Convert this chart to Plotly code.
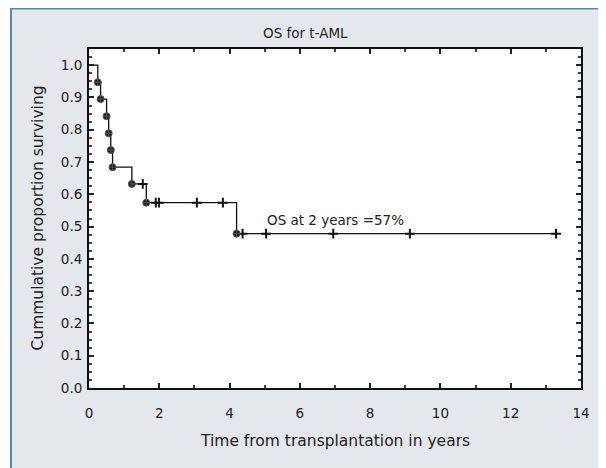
import plotly.graph_objects as go

# Kaplan-Meier data
event_times = [0.25, 0.33, 0.50, 0.56, 0.62, 0.67, 1.22, 1.63, 4.20]
event_surv = [0.947, 0.895, 0.842, 0.789, 0.737, 0.684, 0.632, 0.574, 0.478]
censor_times = [1.53, 1.90, 1.99, 3.07, 3.81, 4.37, 5.04, 6.95, 9.13, 13.29]
censor_surv = [0.632, 0.574, 0.574, 0.574, 0.574, 0.478, 0.478, 0.478, 0.478, 0.478]
start_time, start_surv = 0.0, 1.0
end_time = 13.29

x_ticks = [0, 2, 4, 6, 8, 10, 12, 14]
y_ticks = [0.0, 0.1, 0.2, 0.3, 0.4, 0.5, 0.6, 0.7, 0.8, 0.9, 1.0]

FONT = "DejaVu Sans"
OFF = 8  # browser body margin
W, H = 606 - OFF, 468 - OFF
# plot area in page pixels: x 89..581, y 49..388
L, T = 89 - OFF, 49 - OFF
R = W - (581 - OFF)
B = H - (388 - OFF)
PW, PH = W - L - R, H - T - B

def px(xp):  # page pixel -> paper x
    return (xp - OFF - L) / PW

def py(yp):  # page pixel -> paper y
    return (H - B - (yp - OFF)) / PH

curve_x = [start_time] + event_times + [end_time]
curve_y = [start_surv] + event_surv + [event_surv[-1]]

fig = go.Figure()
fig.add_trace(go.Scatter(
    x=curve_x, y=curve_y, mode="lines", line_shape="hv",
    line=dict(color="#111111", width=1.3), hoverinfo="skip", showlegend=False))
fig.add_trace(go.Scatter(
    x=censor_times, y=censor_surv, mode="markers",
    marker=dict(symbol="cross-thin", size=7, line=dict(color="#111111", width=2)),
    showlegend=False))
fig.add_trace(go.Scatter(
    x=event_times, y=event_surv, mode="markers",
    marker=dict(symbol="circle-cross", size=7, color="#1a1a1a",
                line=dict(color="#555555", width=1)),
    showlegend=False))

fig.update_layout(
    width=W, height=H,
    margin=dict(l=L, r=R, t=T, b=B, autoexpand=False),
    paper_bgcolor="#e4e7eb", plot_bgcolor="white",
    font=dict(family=FONT, color="#222222", size=13),
    showlegend=False,
)

axis_common = dict(
    showline=True, linecolor="#111111", linewidth=2, mirror="ticks",
    ticks="inside", ticklen=5, tickwidth=1.5, tickcolor="#222222",
    showgrid=False, zeroline=False, automargin=False,
    tickfont=dict(family=FONT, size=13.5, color="#222222"),
)
fig.update_xaxes(range=[0, 14], tickvals=x_ticks, ticklabelstandoff=12,
                 minor=dict(dtick=1, ticks="inside", ticklen=3, tickcolor="#444444"),
                 **axis_common)
fig.update_yaxes(range=[0, 1.05], tickvals=y_ticks, tickformat=".1f", ticklabelstandoff=2,
                 minor=dict(dtick=0.025, ticks="inside", ticklen=3, tickcolor="#444444"),
                 **axis_common)

# white strip left of the frame and blue frame lines (top and left)
fig.add_shape(type="rect", xref="paper", yref="paper", x0=px(OFF - 2), x1=px(10),
              y0=py(H + OFF + 5), y1=py(OFF - 2), fillcolor="white", line_width=0, layer="above")
fig.add_shape(type="line", xref="paper", yref="paper", x0=px(10), x1=px(W + OFF + 5),
              y0=py(8.5), y1=py(8.5), line=dict(color="#5a86b2", width=2))
fig.add_shape(type="line", xref="paper", yref="paper", x0=px(11), x1=px(11),
              y0=py(7.5), y1=py(H + OFF + 5), line=dict(color="#5a86b2", width=2))

fig.add_annotation(text="OS for t-AML", xref="paper", yref="paper",
                   x=px(305), y=py(33), xanchor="center", yanchor="middle",
                   showarrow=False, font=dict(family=FONT, size=13.5, color="#222222"))
fig.add_annotation(text="Time from transplantation in years", xref="paper", yref="paper",
                   x=px(335), y=py(441), xanchor="center", yanchor="middle",
                   showarrow=False, font=dict(family=FONT, size=15.5, color="#222222"))
fig.add_annotation(text="Cummulative proportion surviving", xref="paper", yref="paper",
                   x=px(37), y=0.5, xanchor="center", yanchor="middle", textangle=-90,
                   showarrow=False, font=dict(family=FONT, size=15.5, color="#222222"))
fig.add_annotation(text="OS at 2 years =57%", xref="x", yref="y",
                   x=5.0, y=0.52, xanchor="left", yanchor="middle",
                   showarrow=False, font=dict(family=FONT, size=13.5, color="#222222"))

fig.write_html("out.html")
